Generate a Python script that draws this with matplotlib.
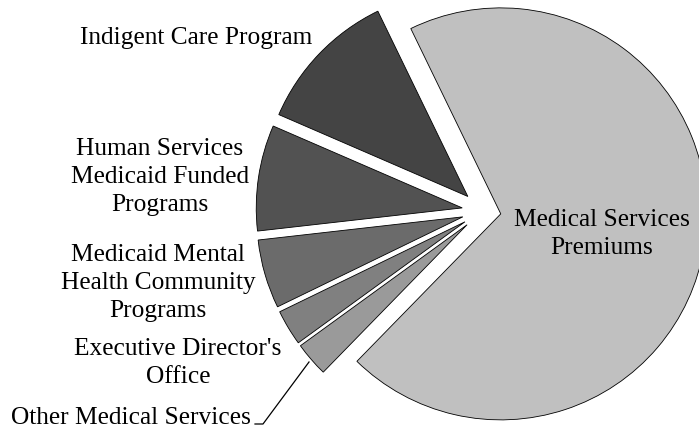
import matplotlib.pyplot as plt

# budget shares (percent)
categories = ["Medical Services\nPremiums",
              "Indigent Care Program",
              "Human Services\nMedicaid Funded\nPrograms",
              "Medicaid Mental\nHealth Community\nPrograms",
              "Executive Director's\nOffice",
              "Other Medical Services"]
shares = [69.5, 11.3, 8.3, 5.4, 2.8, 2.7]
colors = ["#c0c0c0", "#444444", "#525252", "#6b6b6b", "#808080", "#9a9a9a"]
# explode offsets are in data units (pixels here)
explode = [18, 21, 21, 21, 21, 21]

# label anchor positions in pixel units (y up)
label_xy = [(602, 200), (196, 396), (160, 257), (158, 151), (178, 71), (131, 16)]

plt.rcParams['font.family'] = ['Liberation Serif', 'DejaVu Serif']

fig = plt.figure(figsize=(6.99, 4.34), dpi=100)
ax = fig.add_axes([0, 0, 1, 1])

ax.pie(shares, colors=colors, explode=explode, startangle=-134.3,
       counterclock=True, center=(483, 223), radius=206,
       wedgeprops=dict(edgecolor='black', linewidth=0.6), frame=True)
ax.set_xlim(0, 699)
ax.set_ylim(0, 434)
ax.set_aspect('equal')
ax.axis('off')

for name, (x, y) in zip(categories, label_xy):
    ax.text(x, y, name, ha='center', va='center', fontsize=18.3,
            linespacing=1.34, color='black')

# leader line for the smallest slice
ax.plot([255, 263, 309], [434 - 424, 434 - 424, 434 - 362], color='black', lw=0.9)

fig.savefig("out.png", dpi=100)
plt.close(fig)
